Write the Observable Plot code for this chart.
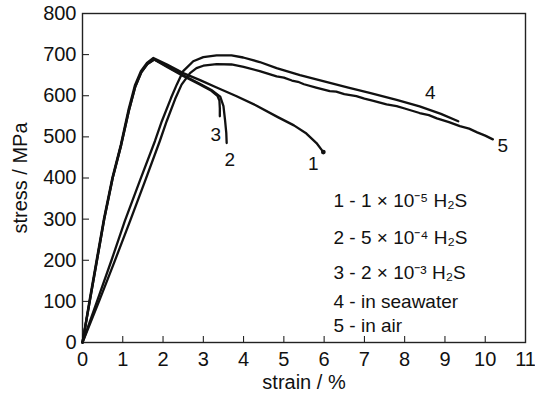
<!DOCTYPE html>
<html><head><meta charset="utf-8">
<script src="https://cdn.jsdelivr.net/npm/d3@7"></script>
<script src="https://cdn.jsdelivr.net/npm/@observablehq/plot@0.6"></script>
<style>
body{margin:0;background:#fff}
#chart{width:535px;height:394px;overflow:hidden}
</style>
</head><body><div id="chart"></div>
<script>
// ---- data ----
const curveIds = ["1", "2", "3", "4", "5"];

const strain1 = [0, 0.17, 0.35, 0.53, 0.74, 0.95, 1.14, 1.30, 1.45, 1.60, 1.76, 2.10, 2.50, 2.92, 3.33, 3.80, 4.30, 4.85, 5.25, 5.56, 5.81, 5.98];
const stress1 = [0, 100, 200, 300, 400, 480, 565, 625, 660, 680, 692, 676, 655, 638, 620, 600, 577, 548, 528, 508, 485, 463];

const strain2 = [0, 0.18, 0.36, 0.54, 0.75, 0.96, 1.15, 1.31, 1.46, 1.61, 1.78, 2.10, 2.50, 2.90, 3.20, 3.42, 3.50, 3.54, 3.57, 3.58];
const stress2 = [0, 100, 200, 300, 400, 480, 563, 622, 657, 677, 688, 672, 650, 630, 614, 598, 575, 540, 510, 485];

const strain3 = [0, 0.18, 0.36, 0.54, 0.75, 0.96, 1.15, 1.31, 1.46, 1.61, 1.78, 2.10, 2.50, 2.90, 3.20, 3.35, 3.40, 3.41, 3.41];
const stress3 = [0, 100, 200, 300, 400, 480, 563, 622, 657, 677, 688, 670, 648, 628, 612, 600, 588, 570, 550];

const strain4 = [0, 0.36, 0.72, 1.05, 1.43, 1.80, 1.97, 2.20, 2.34, 2.50, 2.75, 3.00, 3.33, 3.70, 3.99, 4.40, 4.82, 5.40, 6.00, 6.60, 7.13, 7.80, 8.37, 8.90, 9.33];
const stress4 = [0, 100, 200, 295, 395, 490, 538, 595, 627, 660, 684, 694, 698, 698, 693, 682, 667, 650, 635, 620, 607, 590, 574, 556, 538];

const strain5 = [0, 0.41, 0.80, 1.18, 1.55, 1.92, 2.09, 2.30, 2.46, 2.67, 2.83, 3.00, 3.33, 3.70, 4.00, 4.40, 4.82, 5.00, 5.20, 5.35, 5.50, 5.80, 6.14, 6.30, 6.50, 6.80, 7.00, 7.20, 7.55, 7.80, 8.00, 8.37, 8.60, 8.80, 9.10, 9.37, 9.60, 9.80, 10.00, 10.19];
const stress5 = [0, 100, 198, 295, 392, 490, 538, 592, 627, 655, 667, 673, 677, 676, 670, 660, 647, 644, 637, 634, 628, 620, 611, 610, 604, 599, 593, 588, 579, 575, 569, 558, 553, 545, 536, 526, 520, 511, 503, 494];

const xTicks = [0, 1, 2, 3, 4, 5, 6, 7, 8, 9, 10, 11];
const yTicks = [0, 100, 200, 300, 400, 500, 600, 700, 800];

const legendLines = [
  "1 - 1 × 10⁻⁵ H₂S",
  "2 - 5 × 10⁻⁴ H₂S",
  "3 - 2 × 10⁻³ H₂S",
  "4 - in seawater",
  "5 - in air"
];

// ---- build tables ----
const series = [[strain1, stress1], [strain2, stress2], [strain3, stress3], [strain4, stress4], [strain5, stress5]];
const rows = series.flatMap(([xs, ys], k) => xs.map((x, i) => ({curve: curveIds[k], strain: x, stress: ys[i]})));
const ends = series.map(([xs, ys], k) => ({curve: curveIds[k], strain: xs[xs.length - 1], stress: ys[ys.length - 1]}));

// ---- layout / style constants ----
const labelShift = {"1": [-10, 12], "2": [3, 17], "3": [-4, 19], "4": [-28, -28], "5": [10, 7]};
const legendDy = [180, 217, 252, 281, 305];
const font = '"Liberation Sans", Arial, Helvetica, sans-serif';
const ink = "#111";

const chart = Plot.plot({
  width: 535,
  height: 394,
  marginLeft: 82,
  marginRight: 10,
  marginTop: 13,
  marginBottom: 52,
  style: {fontFamily: font, fontSize: "19px", color: ink, background: "#fff", overflow: "visible"},
  x: {domain: [0, 11]},
  y: {domain: [0, 800]},
  marks: [
    Plot.axisX(xTicks, {tickSize: -6, tickPadding: 15, label: "strain / %", labelAnchor: "center", labelOffset: 46, labelArrow: false, fontSize: 20, stroke: ink}),
    Plot.axisY(yTicks, {tickSize: -7, tickPadding: 13, label: "stress / MPa", labelAnchor: "center", labelOffset: 70, labelArrow: false, fontSize: 20, stroke: ink}),
    Plot.frame({stroke: "#222", strokeWidth: 1.4}),
    Plot.line(rows, {x: "strain", y: "stress", z: "curve", stroke: ink, strokeWidth: 2.3, curve: "linear", strokeLinejoin: "round"}),
    Plot.dot([ends[0]], {x: "strain", y: "stress", r: 2.4, fill: ink}),
    ...ends.map(e => Plot.text([e], {x: "strain", y: "stress", text: "curve", dx: labelShift[e.curve][0], dy: labelShift[e.curve][1], fontSize: 19, fill: ink})),
    ...legendLines.map((t, i) => Plot.text([t], {frameAnchor: "top-left", text: d => d, dx: 251, dy: legendDy[i], textAnchor: "start", fontSize: 19, fill: ink}))
  ]
});
document.getElementById("chart").append(chart);
</script>
</body></html>
